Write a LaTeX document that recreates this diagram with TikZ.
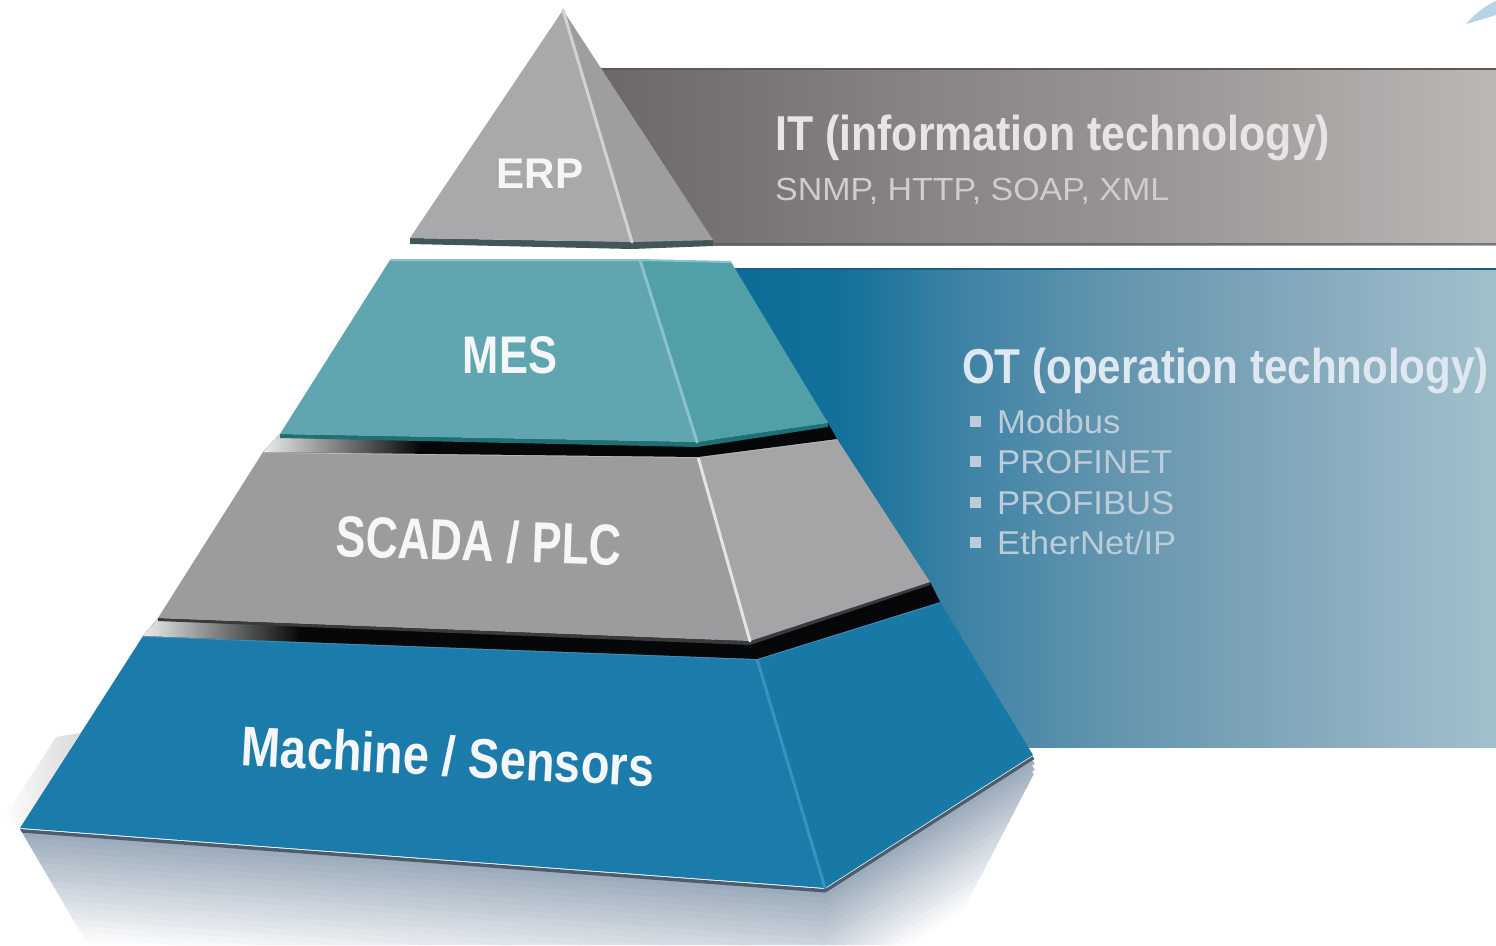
\documentclass[tikz,border=0pt]{standalone}
\usepackage{fontspec}
\setmainfont{Liberation Sans}
\usetikzlibrary{fadings}

% band colours
\definecolor{itA}{HTML}{6B6767}
\definecolor{itB}{HTML}{878282}
\definecolor{itC}{HTML}{9A9594}
\definecolor{itD}{HTML}{BCB7B5}
\definecolor{itEdge}{HTML}{5E5A5A}
\definecolor{otA}{HTML}{0A6C96}
\definecolor{otB}{HTML}{13709A}
\definecolor{otC}{HTML}{3E83A5}
\definecolor{otD}{HTML}{6294AE}
\definecolor{otE}{HTML}{83A8BB}
\definecolor{otF}{HTML}{A2C0CC}
\definecolor{otEdge}{HTML}{1B5E80}
% pyramid colours
\definecolor{erpFront}{HTML}{A9A9AB}
\definecolor{erpSide}{HTML}{9E9EA0}
\definecolor{erpRidge}{HTML}{D2D2D4}
\definecolor{erpBase}{HTML}{415659}
\definecolor{mesFront}{HTML}{5FA6B1}
\definecolor{mesSide}{HTML}{51A0A8}
\definecolor{mesRidge}{HTML}{8CC1C9}
\definecolor{mesTop}{HTML}{86C3CB}
\definecolor{mesBase}{HTML}{1F6F75}
\definecolor{scaFront}{HTML}{9C9C9E}
\definecolor{scaSide}{HTML}{A5A5A7}
\definecolor{scaRidge}{HTML}{E4E4E6}
\definecolor{scaTop}{HTML}{B8B8BA}
\definecolor{scaBase}{HTML}{3A3A3C}
\definecolor{macFront}{HTML}{1B7BAA}
\definecolor{macSide}{HTML}{1878A6}
\definecolor{macRidge}{HTML}{3A92BD}
\definecolor{macTop}{HTML}{3B93BF}
\definecolor{gapShadow}{HTML}{050708}
\definecolor{reflect}{HTML}{7A8FA5}
\definecolor{reflectDark}{HTML}{4E5D6B}
\definecolor{swoosh}{HTML}{B7D3E6}
% text colours
\definecolor{labelWhite}{HTML}{F5F6F8}
\definecolor{itTitle}{HTML}{E6E4E4}
\definecolor{itSub}{HTML}{CFCDCD}
\definecolor{otTitle}{HTML}{DFE8F0}
\definecolor{otItem}{HTML}{BCCCD8}

\pgfdeclarehorizontalshading{itband}{100bp}{color(0bp)=(itA); color(25bp)=(itA); color(42bp)=(itB); color(56bp)=(itC); color(75bp)=(itD); color(100bp)=(itD)}
\pgfdeclarehorizontalshading{otband}{100bp}{color(0bp)=(otA); color(25bp)=(otA); color(33bp)=(otB); color(41bp)=(otC); color(50bp)=(otD); color(62bp)=(otE); color(75bp)=(otF); color(100bp)=(otF)}

\tikzfading[name=whiteout, left color=transparent!0, right color=transparent!100]
\tikzfading[name=edgefade, left color=transparent!100, right color=transparent!0]

\tikzset{
  lbl/.style={inner sep=0pt, text=labelWhite, anchor=base},
  bandtext/.style={inner sep=0pt, anchor=base west},
  ridge/.style={line width=3pt, line cap=round},
  bevel/.style={line width=2pt},
  bulletsq/.style={fill=otItem},
}

\begin{document}
\begin{tikzpicture}[x=1pt,y=-1pt,line join=round]
\useasboundingbox (0,0) rectangle (1496,945);
\fill[white] (0,0) rectangle (1496,945);

% corner points of the four layers
\coordinate (A1) at (563,10);
\coordinate (A-BL) at (410,238);
\coordinate (A-RB) at (632,242);
\coordinate (A-BR) at (713,240);

\coordinate (B-TL) at (390,260);
\coordinate (B-RT) at (640,260);
\coordinate (B-TR) at (731,262);
\coordinate (B-BL) at (280,434);
\coordinate (B-RB) at (697,442);
\coordinate (B-BR) at (828,423);

\coordinate (C-TL) at (263,452);
\coordinate (C-RT) at (698,457);
\coordinate (C-TR) at (837,439);
\coordinate (C-BL) at (158,618);
\coordinate (C-RB) at (750,641);
\coordinate (C-BR) at (930,582);

\coordinate (D-TL) at (143,636);
\coordinate (D-RT) at (757,659);
\coordinate (D-TR) at (940,602);
\coordinate (D-BL) at (20,828);
\coordinate (D-RB) at (825,888);
\coordinate (D-BR) at (1033,755);

% IT band
\shade[shading=itband] (590,68) rectangle (1496,245);
\draw[itEdge, line width=2.5pt] (590,69) -- (1496,69);
\draw[itEdge, line width=2pt, opacity=0.7] (700,244) -- (1496,244);

% OT band
\shade[shading=otband] (715,268) rectangle (1496,747);
\draw[otEdge, line width=2pt] (715,269) -- (1496,269);

% small swoosh in the top corner
\fill[swoosh] (1466,24) .. controls (1476,12) and (1487,5) .. (1496,1) -- (1496,15) .. controls (1487,18) and (1476,21) .. (1466,24) -- cycle;

% reflection under the base layer
\begin{scope}
  \clip (20,829) -- (825,889) -- (1033,756) -- (1040,762) -- (945,945) -- (88,945) -- cycle;
  \foreach \k in {19,18,...,1} {
    \pgfmathsetmacro\p{max(0,78-4.2*\k)}
    \draw[line width=6.6pt, color=reflect!\p!white]
      ([yshift=-6*\k pt]D-BL) -- ([yshift=-6*\k pt]D-RB) -- ([yshift=-6*\k pt]D-BR);
  }
  \draw[line width=5pt, reflectDark] ([yshift=-2pt]D-BL) -- ([yshift=-2pt]D-RB) -- ([yshift=-2pt]D-BR);
\end{scope}

% soft shadow beside the base layer
\fill[gray!30, path fading=edgefade] (4,818) -- (56,737) -- (80,733) -- (20,828) -- cycle;

% Machine / Sensors layer
\fill[macFront] (D-TL) -- (D-RT) -- (D-RB) -- (D-BL) -- cycle;
\fill[macSide] (D-RT) -- (D-TR) -- (D-BR) -- (D-RB) -- cycle;
\draw[ridge, macRidge] (D-RT) -- (D-RB);
\draw[bevel, macTop] (D-TL) -- (D-RT) -- (D-TR);

% dark gap between SCADA and Machine, fading out at its left end
\begin{scope}
  \clip (C-BL) -- (C-RB) -- (C-BR) -- (D-TR) -- (D-RT) -- (D-TL) -- cycle;
  \fill[gapShadow] (130,570) rectangle (960,680);
  \fill[white, path fading=whiteout] (130,600) rectangle (300,660);
\end{scope}

% SCADA / PLC layer
\fill[scaBase] (C-BL) -- (C-RB) -- (C-BR) -- ([yshift=-3pt]C-BR) -- ([yshift=-4pt]C-RB) -- ([yshift=-3pt]C-BL) -- cycle;
\fill[scaFront] (C-TL) -- (C-RT) -- (C-RB) -- (C-BL) -- cycle;
\fill[scaSide] (C-RT) -- (C-TR) -- (C-BR) -- (C-RB) -- cycle;
\draw[ridge, scaRidge] (C-RT) -- (C-RB);
\draw[bevel, scaTop] (C-TL) -- (C-RT) -- (C-TR);

% dark gap between MES and SCADA, fading out at its left end
\begin{scope}
  \clip (B-BL) -- (B-RB) -- (B-BR) -- (C-TR) -- (C-RT) -- (C-TL) -- cycle;
  \fill[gapShadow] (250,410) rectangle (850,470);
  \fill[white, path fading=whiteout] (250,420) rectangle (420,470);
\end{scope}

% MES layer
\fill[mesBase] (B-BL) -- (B-RB) -- (B-BR) -- ([yshift=-4pt]B-BR) -- ([yshift=-5pt]B-RB) -- ([yshift=-4pt]B-BL) -- cycle;
\fill[mesFront] (B-TL) -- (B-RT) -- (B-RB) -- (B-BL) -- cycle;
\fill[mesSide] (B-RT) -- (B-TR) -- (B-BR) -- (B-RB) -- cycle;
\draw[ridge, mesRidge] (B-RT) -- (B-RB);
\draw[bevel, mesTop] (B-TL) -- (B-RT) -- (B-TR);

% ERP cap
\fill[erpBase] (A-BL) -- (A-RB) -- (A-BR) -- ([yshift=-6pt]A-BR) -- ([yshift=-7pt]A-RB) -- ([yshift=-6pt]A-BL) -- cycle;
\fill[erpFront] (A1) -- (A-RB) -- (A-BL) -- cycle;
\fill[erpSide] (A1) -- (A-BR) -- (A-RB) -- cycle;
\draw[ridge, erpRidge] (A1) -- (A-RB);

% layer labels
\node[lbl, font=\bfseries\fontsize{43}{43}\selectfont, xscale=0.98] (erp) at (540,188) {ERP};
\node[lbl, font=\bfseries\fontsize{53}{53}\selectfont, xscale=0.82] (mes) at (510,373) {MES};
\node[lbl, font=\bfseries\fontsize{58}{58}\selectfont, rotate=-2, xscale=0.77] (scada) at (478,561) {SCADA / PLC};
\node[lbl, font=\bfseries\fontsize{56}{56}\selectfont, rotate=-3, xscale=0.84] (machine) at (447,776) {Machine / Sensors};

% IT text
\node[bandtext, text=itTitle, font=\bfseries\fontsize{49}{49}\selectfont, xscale=0.875] (ittitle) at (775,150) {IT (information technology)};
\node[bandtext, text=itSub, font=\fontsize{32}{32}\selectfont, xscale=1.06] (itproto) at (775,200) {SNMP, HTTP, SOAP, XML};

% OT text
\node[bandtext, text=otTitle, font=\bfseries\fontsize{49}{49}\selectfont, xscale=0.86] (ottitle) at (962,383) {OT (operation technology)};
\foreach \name/\txt/\yb in {modbus/Modbus/433, profinet/PROFINET/473, profibus/PROFIBUS/514, ethernetip/EtherNet\slash IP/554} {
  \fill[bulletsq] (970,\yb-17.5) rectangle (981,\yb-6.5);
  \node[bandtext, text=otItem, font=\fontsize{33}{33}\selectfont, xscale=1.05] (\name) at (997,\yb) {\txt};
}
\end{tikzpicture}
\end{document}
